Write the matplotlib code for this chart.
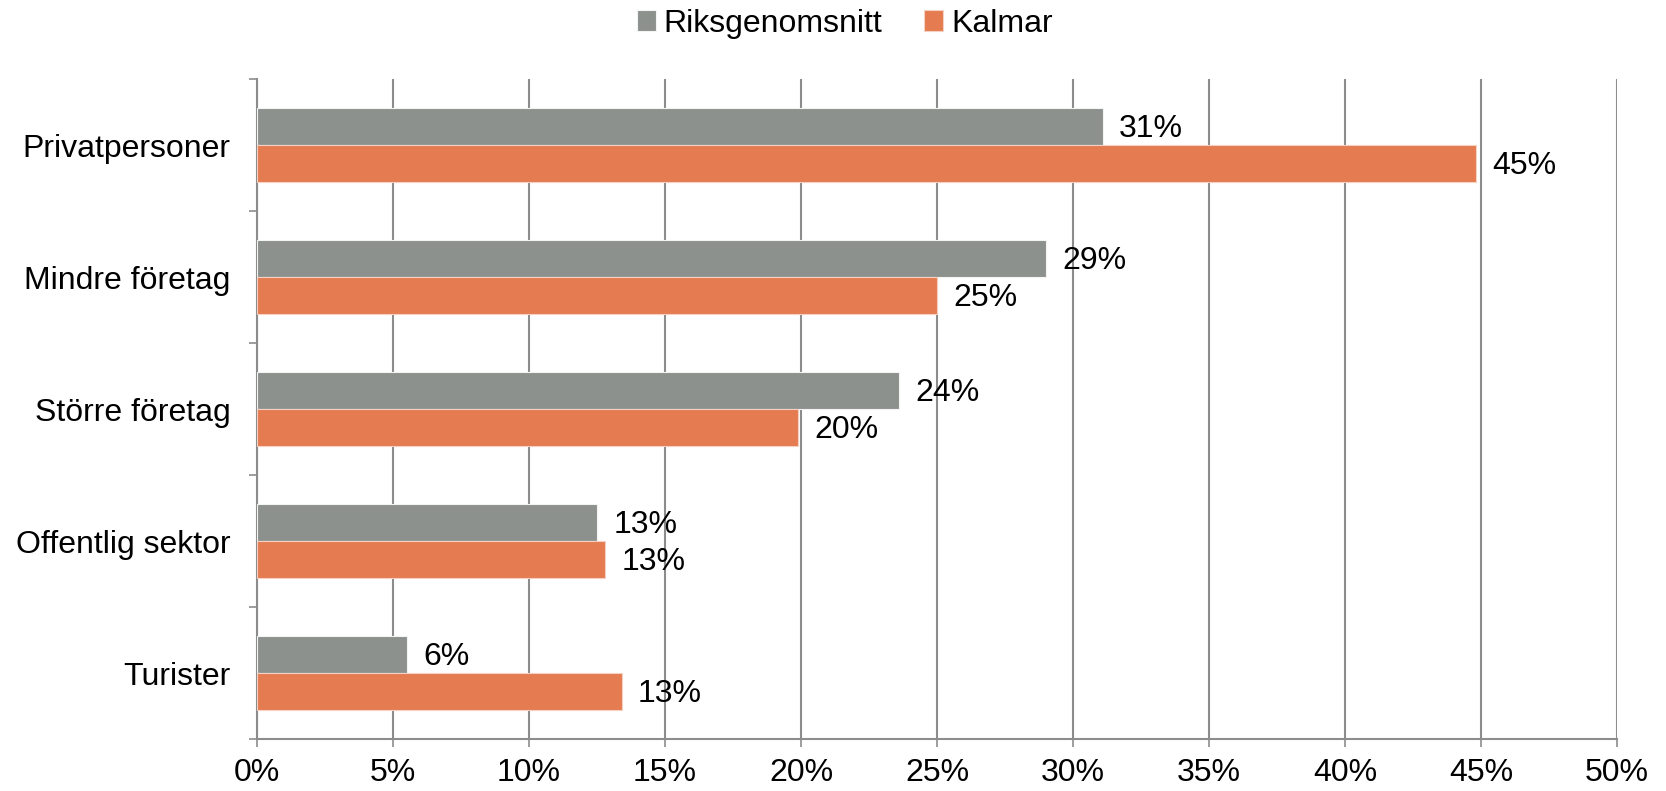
import matplotlib
matplotlib.use("Agg")
import matplotlib.pyplot as plt
import numpy as np
from matplotlib.ticker import FixedLocator, PercentFormatter

plt.rcParams['font.family'] = ['Liberation Sans', 'DejaVu Sans']

categories = ["Privatpersoner", "Mindre företag", "Större företag", "Offentlig sektor", "Turister"]
riks = [31.1, 29.0, 23.6, 12.5, 5.5]
kalmar = [44.8, 25.0, 19.9, 12.8, 13.4]
series_names = ["Riksgenomsnitt", "Kalmar"]
x_ticks = [0, 5, 10, 15, 20, 25, 30, 35, 40, 45, 50]

gray = "#8C918E"
orange = "#E57B50"

fig = plt.figure(figsize=(16.66, 7.91), dpi=100)
ax = fig.add_axes([0.1543, 0.0657, 0.8163, 0.8343])

y = np.arange(len(categories))
h = 0.28
ax.barh(y - h / 2, riks, height=h, color=gray, edgecolor="#f3f3f3", linewidth=0.8, label=series_names[0], zorder=3)
ax.barh(y + h / 2, kalmar, height=h, color=orange, edgecolor="#f6d0c0", linewidth=0.8, label=series_names[1], zorder=3)

fs = 23
for yi, v in zip(y, riks):
    ax.text(v + 0.6, yi - h / 2 + 0.02, f"{int(v + 0.5)}%", va="center", ha="left", fontsize=fs, zorder=4)
for yi, v in zip(y, kalmar):
    ax.text(v + 0.6, yi + h / 2 + 0.02, f"{int(v + 0.5)}%", va="center", ha="left", fontsize=fs, zorder=4)

ax.set_xlim(0, 50)
ax.set_ylim(len(categories) - 0.5, -0.5)
ax.xaxis.set_major_locator(FixedLocator(x_ticks))
ax.xaxis.set_major_formatter(PercentFormatter(decimals=0))
ax.grid(axis="x", color="#8c8c8c", linewidth=1.5, zorder=0)

ax.set_yticks(np.arange(len(categories) + 1) - 0.5)
ax.set_yticklabels([])
ax.set_yticks(y, minor=True)
ax.set_yticklabels(categories, minor=True, fontsize=fs)
ax.tick_params(axis="y", which="major", length=6, width=1.2, color="#8c8c8c")
ax.tick_params(axis="y", which="minor", length=0, pad=19)
ax.tick_params(axis="x", length=6, width=1.2, color="#8c8c8c", labelsize=fs, pad=8)

for s in ["top", "right"]:
    ax.spines[s].set_visible(False)
for s in ["left", "bottom"]:
    ax.spines[s].set_color("#8c8c8c")
    ax.spines[s].set_linewidth(1.5)

handles, labels = ax.get_legend_handles_labels()
leg = fig.legend(handles, labels, loc="center", bbox_to_anchor=(0.507, 0.97), ncol=2, frameon=False,
                 fontsize=fs, handlelength=0.6, handleheight=0.6, handletextpad=0.25, columnspacing=1.3)

fig.savefig("out.png", dpi=100)
